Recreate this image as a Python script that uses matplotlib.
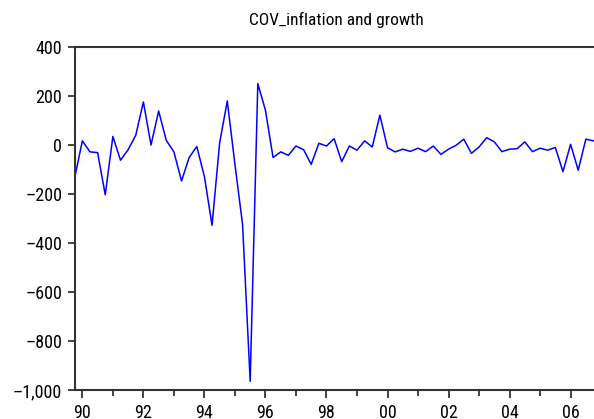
import numpy as np
import matplotlib.pyplot as plt
from matplotlib.ticker import FixedLocator, FuncFormatter

# quarterly series, 1989Q4 .. 2007Q1
start_year = 1989.75
cov = [-132, 18, -27, -30, -202, 36, -61, -18, 41, 177,
       1, 140, 20, -27, -146, -50, -5, -128, -327, 11,
       181, -78, -323, -964, 252, 143, -50, -27, -41, -3,
       -18, -78, 8, -3, 27, -67, -3, -20, 18, -7,
       123, -10, -27, -16, -25, -12, -26, -3, -37, -16,
       0, 25, -33, -7, 31, 14, -26, -16, -14, 14,
       -26, -12, -20, -9, -108, 4, -102, 25, 18, 35]
year_ticks = list(range(1990, 2007, 2))
year_labels = ["90", "92", "94", "96", "98", "00", "02", "04", "06"]
minor_years = list(range(1991, 2008, 2))
y_ticks = [-1000, -800, -600, -400, -200, 0, 200, 400]

t = start_year + 0.25 * np.arange(len(cov))

plt.rcParams['font.family'] = ['Liberation Sans Narrow', 'Arial Narrow', 'Roboto Condensed',
                               'Archivo Narrow', 'DejaVu Sans']

fig = plt.figure(figsize=(5.94, 4.19), dpi=100)
ax = fig.add_axes([0.1258, 0.069, 0.88, 0.818])

ax.plot(t, cov, color="#0000ff", lw=1.1)

ax.set_xlim(start_year, 2006.88)
ax.set_ylim(-1000, 400)

ax.xaxis.set_major_locator(FixedLocator(year_ticks))
ax.xaxis.set_minor_locator(FixedLocator(minor_years))
ax.set_xticklabels(year_labels)
ax.set_yticks(y_ticks)
ax.yaxis.set_major_formatter(FuncFormatter(lambda v, p: f"{int(v):,}".replace("-", "\u2013")))

ax.tick_params(axis="both", which="major", direction="out", width=1.2,
               color="#222222", labelsize=13)
ax.tick_params(axis="y", which="major", length=5, pad=4)
ax.tick_params(axis="x", which="major", length=5.8, pad=4.5)
ax.tick_params(axis="x", which="minor", direction="out", length=4.3, width=1.2, color="#222222")

for side in ["left", "top", "bottom"]:
    ax.spines[side].set_linewidth(1.5)
    ax.spines[side].set_color("#333333")
ax.spines["right"].set_visible(False)

ax.set_title("COV_inflation and growth", fontsize=12.5, pad=16)

fig.savefig("out.png", dpi=100)
